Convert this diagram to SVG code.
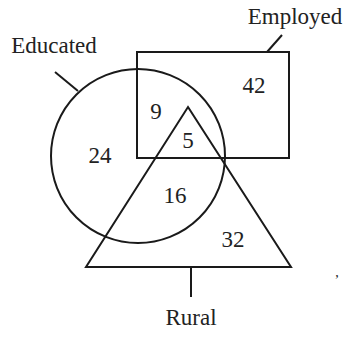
<svg xmlns="http://www.w3.org/2000/svg" width="351" height="337" viewBox="0 0 351 337">
<style>
.s{fill:none;stroke:#1a1a1a;stroke-width:2}
text{font-family:"Liberation Serif","Times New Roman",serif;font-size:23px;fill:#222;text-anchor:middle}
</style>
<rect width="351" height="337" fill="#fff"/>
<g id="educated"><circle class="s" cx="138" cy="156" r="87"/><text x="54" y="53">Educated</text></g>
<g id="employed"><rect class="s" x="137" y="52" width="152" height="106"/><text x="295" y="24">Employed</text></g>
<g id="rural"><polygon class="s" points="188,107 291,267 86,267"/><text x="191" y="325">Rural</text></g>
<g id="connectors">
<line class="s" x1="55" y1="72" x2="78" y2="91"/>
<line class="s" x1="267" y1="52" x2="282" y2="35"/>
<line class="s" x1="191" y1="267" x2="191" y2="297"/>
</g>
<g id="numbers">
<text x="254" y="93">42</text>
<text x="156" y="119">9</text>
<text x="188" y="148">5</text>
<text x="100" y="163">24</text>
<text x="175" y="203">16</text>
<text x="233" y="247">32</text>
<text x="337" y="277" style="font-size:14px">,</text>
</g>
</svg>
